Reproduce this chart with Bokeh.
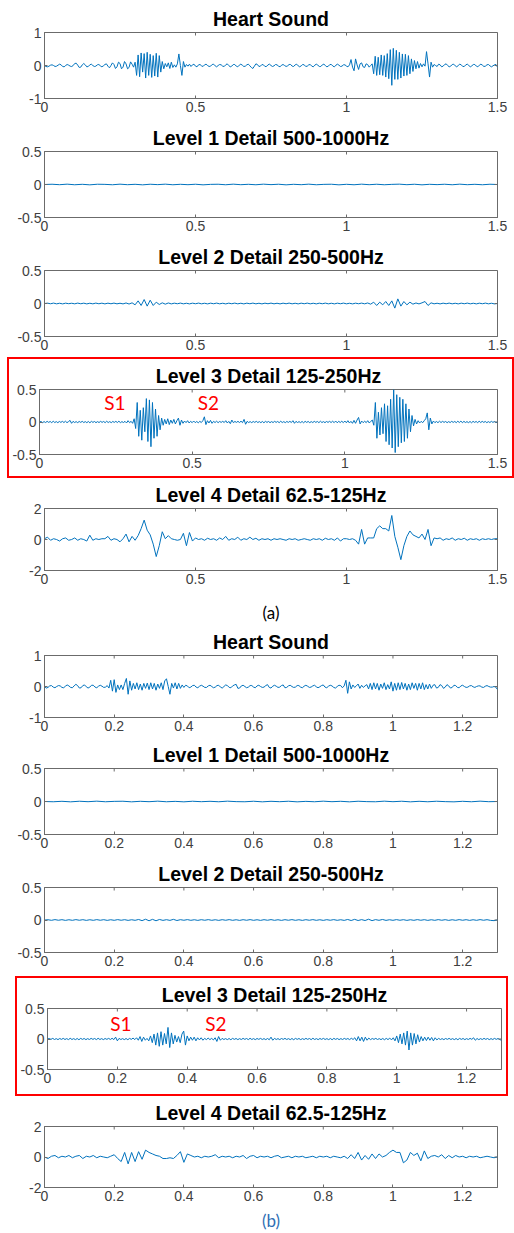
import numpy as np
from bokeh.plotting import figure
from bokeh.layouts import column, row
from bokeh.models import (FixedTicker, NumeralTickFormatter, Label, Spacer,
                          Range1d)
from bokeh.embed import file_html
from bokeh.resources import INLINE

# ---------------------------------------------------------------------------
# Recording (a): 1.5 s
# ---------------------------------------------------------------------------
heart_a = [  # 5 ms samples
    0.00, -0.03, -0.04, -0.02, 0.01, 0.02, 0.00, -0.03, -0.02, 0.01,
    0.04, 0.02, -0.03, -0.04, 0.00, 0.03, 0.01, -0.02, -0.03, 0.00,
    0.06, 0.07, 0.01, -0.06, -0.05, 0.02, 0.06, 0.02, -0.04, -0.03,
    0.02, 0.04, 0.00, -0.03, -0.02, 0.02, 0.03, -0.01, -0.04, -0.01,
    0.03, 0.05, -0.02, -0.07, 0.00, 0.08, 0.03, -0.09, -0.04, 0.10,
    0.06, -0.10, -0.05, 0.12, 0.05, -0.10, -0.06, 0.11, 0.04, -0.05,
    0.10, -0.30, 0.32, -0.34, 0.38, -0.20, 0.36, -0.38, 0.40, -0.30,
    0.34, -0.36, 0.30, -0.32, 0.37, -0.35, 0.30, -0.20, 0.12, -0.10,
    0.06, -0.04, 0.08, -0.09, 0.10, -0.06, 0.02, -0.05, 0.05, 0.35,
    0.00, -0.30, 0.12, -0.05, 0.03, -0.02, 0.04, -0.03, 0.02, 0.04,
    -0.02, -0.04, 0.02, 0.03, -0.01, -0.03, 0.02, 0.04, 0.00, -0.03,
    -0.02, 0.03, 0.04, -0.01, -0.04, 0.00, 0.03, 0.02, -0.02, -0.03,
    0.02, 0.05, 0.00, -0.04, -0.02, 0.03, 0.03, -0.02, -0.04, 0.01,
    0.04, 0.01, -0.03, -0.02, 0.02, 0.04, -0.01, -0.06, -0.09, -0.02,
    0.05, 0.03, -0.03, -0.02, 0.03, 0.02, -0.03, -0.03, 0.02, 0.04,
    0.00, -0.03, -0.01, 0.03, 0.02, -0.02, -0.04, 0.01, 0.03, 0.00,
    -0.03, -0.01, 0.03, 0.03, -0.02, -0.03, 0.02, 0.04, -0.01, -0.04,
    -0.01, 0.03, 0.02, -0.03, -0.02, 0.02, 0.03, -0.02, -0.04, 0.01,
    0.04, 0.01, -0.03, -0.03, 0.02, 0.04, 0.00, -0.04, -0.02, 0.03,
    0.03, -0.02, -0.04, 0.01, 0.04, 0.01, -0.03, -0.02, 0.02, 0.02,
    -0.02, -0.04, 0.02, 0.18, -0.05, -0.16, 0.20, 0.02, -0.12, 0.05,
    0.08, -0.04, -0.06, 0.05, 0.03, -0.05, 0.00, 0.05, -0.25, 0.28,
    -0.30, 0.25, -0.28, 0.32, -0.30, 0.30, -0.35, 0.36, -0.40, 0.48,
    -0.60, 0.52, -0.42, 0.46, -0.42, 0.40, -0.38, 0.35, -0.32, 0.34,
    -0.30, 0.30, -0.25, 0.20, -0.18, 0.15, -0.10, 0.12, -0.08, 0.06,
    -0.04, 0.05, -0.02, 0.42, 0.05, -0.35, 0.10, -0.05, 0.03, 0.00,
    -0.03, 0.04, 0.02, -0.04, -0.02, 0.03, 0.05, 0.00, -0.04, -0.02,
    0.03, 0.04, -0.01, -0.04, 0.00, 0.04, 0.02, -0.03, -0.03, 0.02,
    0.04, 0.00, -0.04, -0.01, 0.03, 0.03, -0.02, -0.04, 0.01, 0.04,
    0.01, -0.03, -0.02, 0.02, 0.03, -0.01, -0.04, -0.01, 0.02, 0.03,
    -0.05,
]

level1_a = [  # 25 ms samples
    0.000, 0.004, -0.003, 0.005, -0.004, 0.003, -0.005, 0.004, 0.002, -0.004,
    0.005, -0.003, 0.003, -0.005, 0.004, -0.002, 0.005, -0.004, 0.003, -0.003,
    0.004, -0.005, 0.002, 0.004, -0.004, 0.005, -0.003, 0.003, -0.004, 0.005,
    -0.002, 0.004, -0.005, 0.003, -0.003, 0.005, -0.004, 0.002, 0.004, -0.005,
    0.003, -0.004, 0.005, -0.003, 0.004, -0.004, 0.002, 0.005, -0.003, 0.004,
    -0.005, 0.003, -0.002, 0.004, -0.004, 0.005, -0.003, 0.003, -0.004, 0.004,
    0.000,
]

level2_a = [  # 10 ms samples
    0.000, 0.005, -0.004, 0.006, -0.005, 0.004, -0.006, 0.005, -0.003, 0.004,
    -0.005, 0.006, -0.004, 0.005, -0.006, 0.004, -0.005, 0.006, -0.004, 0.005,
    -0.006, 0.005, -0.004, 0.006, -0.005, 0.004, -0.006, 0.008, -0.008, 0.010,
    -0.020, 0.040, -0.030, 0.060, -0.040, 0.050, -0.030, 0.020, -0.015, 0.010,
    -0.010, 0.008, -0.006, 0.005, -0.004, 0.006, -0.005, 0.004, -0.006, 0.005,
    -0.004, 0.006, -0.005, 0.004, -0.006, 0.005, -0.004, 0.006, -0.005, 0.004,
    -0.006, 0.005, -0.004, 0.006, -0.005, 0.004, -0.006, 0.005, -0.004, 0.006,
    -0.005, 0.004, -0.006, 0.005, -0.004, 0.006, -0.005, 0.004, -0.006, 0.005,
    -0.004, 0.006, -0.005, 0.004, -0.006, 0.005, -0.004, 0.006, -0.005, 0.004,
    -0.006, 0.005, -0.004, 0.006, -0.005, 0.004, -0.006, 0.005, -0.004, 0.006,
    -0.005, 0.004, -0.006, 0.005, -0.004, 0.006, -0.005, 0.008, -0.010, 0.020,
    -0.030, 0.020, -0.020, 0.030, -0.030, 0.040, -0.070, 0.070, -0.040, 0.030,
    -0.020, 0.020, -0.010, 0.008, -0.006, 0.010, 0.030, -0.030, 0.010, -0.005,
    0.004, -0.006, 0.005, -0.004, 0.006, -0.005, 0.004, -0.006, 0.005, -0.004,
    0.006, -0.005, 0.004, -0.006, 0.005, -0.004, 0.006, -0.005, 0.004, -0.006,
    0.000,
]

level3_a = [  # 5 ms samples
    0.000, 0.008, -0.010, 0.006, -0.008, 0.010, -0.006, 0.008, -0.010, 0.012,
    -0.008, 0.006, -0.010, 0.008, -0.006, 0.010, -0.008, 0.012, -0.010, 0.006,
    0.025, -0.020, 0.010, -0.008, 0.006, -0.010, 0.008, -0.006, 0.010, -0.008,
    0.006, -0.010, 0.008, -0.012, 0.010, -0.006, 0.008, -0.010, 0.006, -0.008,
    0.010, -0.006, 0.008, -0.010, 0.012, -0.008, 0.006, -0.010, 0.008, -0.006,
    0.010, -0.008, 0.012, -0.010, 0.006, -0.008, 0.010, -0.015, 0.020, -0.010,
    0.010, -0.020, 0.050, -0.100, 0.300, -0.220, 0.180, -0.280, 0.220, -0.150,
    0.360, -0.300, 0.340, -0.380, 0.300, -0.250, 0.200, -0.220, 0.100, -0.120,
    0.060, -0.050, 0.040, -0.030, 0.050, -0.040, 0.030, -0.020, 0.040, -0.030,
    0.020, 0.060, -0.050, 0.030, -0.020, 0.015, -0.010, 0.020, -0.015, 0.010,
    -0.010, 0.015, -0.010, 0.008, -0.012, 0.010, -0.008, 0.020, 0.080, -0.040,
    0.020, -0.015, 0.025, -0.020, 0.010, -0.008, 0.012, -0.010, 0.008, -0.006,
    0.010, -0.008, 0.020, -0.015, 0.010, -0.025, 0.030, -0.010, 0.008, -0.006,
    0.010, -0.008, 0.012, -0.010, 0.040, -0.035, 0.010, -0.008, 0.006, -0.010,
    0.008, -0.006, 0.010, -0.008, 0.006, -0.010, 0.008, -0.012, 0.010, -0.006,
    0.008, -0.010, 0.006, -0.008, 0.010, -0.006, 0.008, -0.010, 0.012, -0.008,
    0.006, -0.010, 0.008, -0.006, 0.010, -0.008, 0.020, -0.020, 0.010, -0.008,
    0.006, -0.010, 0.008, -0.012, 0.010, -0.006, 0.008, -0.010, 0.006, -0.008,
    0.010, -0.006, 0.008, -0.010, 0.012, -0.008, 0.006, -0.010, 0.008, -0.006,
    0.010, -0.008, 0.012, -0.010, 0.015, -0.012, 0.010, -0.008, 0.012, -0.010,
    0.015, -0.012, 0.020, -0.015, 0.010, -0.020, 0.025, -0.020, 0.030, 0.070,
    -0.030, 0.015, -0.010, 0.012, -0.010, 0.020, -0.015, 0.010, 0.030, -0.050,
    0.300, -0.250, 0.150, -0.200, 0.220, -0.180, 0.280, -0.300, 0.250, -0.350,
    0.350, -0.400, 0.500, -0.470, 0.420, -0.380, 0.380, -0.320, 0.350, -0.300,
    0.280, -0.250, 0.200, -0.150, 0.100, -0.060, 0.040, -0.030, 0.020, -0.015,
    0.010, -0.010, 0.020, 0.050, 0.140, -0.120, 0.060, -0.030, 0.015, -0.010,
    0.008, -0.010, 0.012, -0.008, 0.010, -0.006, 0.008, -0.010, 0.006, -0.008,
    0.010, -0.006, 0.008, -0.010, 0.012, -0.008, 0.015, -0.012, 0.010, -0.008,
    0.006, -0.010, 0.008, -0.012, 0.010, -0.006, 0.008, -0.010, 0.012, -0.008,
    0.010, -0.006, 0.008, -0.010, 0.006, -0.008, 0.010, -0.006, 0.008, -0.010,
    0.000,
]

level4_a = [  # 10 ms samples
    0.05, 0.15, -0.05, 0.05, 0.00, -0.10, 0.05, 0.10, -0.05, 0.00,
    0.10, -0.05, 0.05, 0.00, -0.10, 0.28, -0.05, 0.05, 0.00, 0.05,
    0.05, 0.20, -0.05, 0.05, 0.00, -0.15, 0.05, 0.35, -0.15, 0.20,
    -0.05, 0.25, 0.70, 1.25, 0.60, 0.30, -0.30, -1.10, -0.40, 0.50,
    0.05, 0.25, 0.05, 0.00, -0.05, 0.00, 0.40, -0.40, 0.45, -0.10,
    0.10, 0.00, 0.05, -0.05, 0.08, 0.00, 0.05, -0.05, 0.10, 0.00,
    0.20, -0.05, 0.05, 0.00, 0.15, -0.05, 0.05, 0.00, 0.15, 0.00,
    0.08, -0.05, 0.05, 0.00, 0.05, -0.05, 0.05, 0.00, 0.05, 0.00,
    -0.05, 0.05, 0.00, 0.05, -0.05, 0.00, 0.05, 0.00, -0.05, 0.05,
    0.00, 0.05, -0.05, 0.08, 0.00, 0.05, -0.05, 0.10, -0.10, 0.05,
    0.05, 0.00, 0.05, -0.05, -0.30, 0.65, -0.30, 0.10, 0.10, 0.10,
    0.70, 0.88, 0.70, 0.70, 0.55, 1.55, 0.20, -0.50, -1.30, -0.40,
    0.20, 0.55, 0.30, 0.20, 0.10, 0.35, 0.00, 0.65, -0.40, 0.10,
    0.05, 0.10, -0.05, 0.05, 0.00, 0.10, -0.05, 0.05, 0.00, 0.08,
    -0.05, 0.05, 0.00, 0.05, -0.05, 0.05, 0.00, 0.05, 0.00, 0.05,
    0.05,
]

# ---------------------------------------------------------------------------
# Recording (b): 1.3 s
# ---------------------------------------------------------------------------
heart_b = [  # 5 ms samples
    0.00, -0.05, -0.03, 0.02, 0.03, -0.02, -0.04, 0.00, 0.03, 0.02,
    -0.03, -0.04, 0.01, 0.05, 0.02, -0.03, -0.04, 0.02, 0.07, 0.03,
    -0.05, -0.04, 0.03, 0.05, -0.01, -0.05, -0.02, 0.04, 0.04, -0.02,
    -0.04, 0.01, 0.04, 0.01, -0.03, -0.02, 0.03, -0.05, 0.20, -0.15,
    0.22, -0.19, 0.05, -0.10, 0.05, -0.10, 0.10, 0.26, -0.25, 0.18,
    -0.12, 0.10, -0.08, 0.12, -0.10, 0.08, -0.12, 0.10, -0.06, 0.11,
    -0.10, 0.12, -0.08, 0.10, -0.12, 0.08, -0.06, 0.12, -0.10, 0.18,
    0.25, 0.00, -0.25, 0.10, -0.05, 0.12, -0.08, 0.10, -0.06, 0.05,
    -0.03, 0.04, 0.02, -0.04, -0.02, 0.03, 0.04, -0.02, -0.04, 0.01,
    0.04, 0.01, -0.03, -0.03, 0.02, 0.04, 0.00, -0.04, -0.02, 0.03,
    0.04, -0.02, -0.05, 0.00, 0.05, 0.03, -0.03, -0.04, 0.02, 0.05,
    0.07, -0.06, -0.05, 0.02, 0.04, 0.00, -0.04, -0.02, 0.03, 0.03,
    -0.02, -0.04, 0.02, 0.04, 0.00, -0.03, -0.02, 0.03, 0.06, -0.03,
    -0.05, 0.01, 0.04, 0.01, -0.03, -0.02, 0.03, 0.05, -0.04, -0.03,
    0.02, 0.04, 0.00, -0.03, -0.02, 0.03, 0.03, -0.02, -0.04, 0.01,
    0.04, 0.01, -0.03, -0.02, 0.02, 0.04, -0.01, -0.04, -0.01, 0.03,
    0.05, -0.02, -0.04, 0.01, 0.04, 0.02, -0.03, -0.05, 0.00, 0.04,
    0.03, -0.04, 0.02, 0.20, -0.22, 0.15, -0.08, 0.05, -0.03, 0.02,
    0.08, -0.06, 0.04, -0.03, 0.02, 0.06, -0.08, 0.10, -0.10, 0.12,
    -0.08, 0.10, -0.12, 0.08, -0.06, 0.12, -0.10, 0.06, -0.08, 0.15,
    -0.15, 0.10, -0.12, 0.12, -0.10, 0.13, -0.08, 0.10, -0.12, 0.08,
    -0.10, 0.12, -0.06, 0.10, -0.12, 0.10, -0.08, 0.12, -0.10, 0.06,
    -0.08, 0.08, -0.06, 0.04, 0.06, -0.05, -0.03, 0.06, 0.03, -0.06,
    -0.02, 0.06, 0.02, -0.05, -0.03, 0.04, 0.03, -0.03, -0.04, 0.02,
    0.04, 0.00, -0.03, -0.02, 0.02, 0.03, -0.01, -0.03, 0.00, 0.02,
    0.02, -0.02, -0.03, 0.01, 0.03, 0.00, -0.02, -0.02, 0.00, -0.02,
    -0.10,
]

level1_b = [  # 25 ms samples
    0.000, -0.004, 0.003, -0.005, 0.004, -0.003, 0.005, -0.004, 0.002, 0.004,
    -0.005, 0.003, -0.003, 0.005, -0.004, 0.002, -0.005, 0.004, -0.003, 0.003,
    -0.004, 0.005, -0.002, -0.004, 0.004, -0.005, 0.003, -0.003, 0.004, -0.005,
    0.002, -0.004, 0.005, -0.003, 0.003, -0.005, 0.004, -0.002, -0.004, 0.005,
    -0.003, 0.004, -0.005, 0.003, -0.004, 0.004, -0.002, -0.005, 0.003, -0.004,
    0.005, -0.003, 0.000,
]

level2_b = [  # 10 ms samples
    0.000, 0.004, -0.005, 0.006, -0.004, 0.005, -0.006, 0.004, -0.005, 0.006,
    -0.004, 0.005, -0.006, 0.004, -0.005, 0.006, -0.004, 0.005, -0.006, 0.004,
    -0.005, 0.006, -0.004, 0.005, -0.006, 0.004, -0.005, 0.008, -0.010, 0.012,
    -0.012, 0.010, -0.012, 0.008, -0.006, 0.005, -0.006, 0.010, -0.008, 0.005,
    -0.004, 0.006, -0.005, 0.004, -0.006, 0.005, -0.004, 0.006, -0.005, 0.004,
    -0.006, 0.005, -0.004, 0.006, -0.005, 0.004, -0.006, 0.005, -0.004, 0.006,
    -0.005, 0.004, -0.006, 0.005, -0.004, 0.006, -0.005, 0.004, -0.006, 0.005,
    -0.004, 0.006, -0.005, 0.004, -0.006, 0.005, -0.004, 0.006, -0.005, 0.004,
    -0.006, 0.005, -0.004, 0.006, -0.005, 0.004, -0.006, 0.008, -0.008, 0.010,
    -0.008, 0.006, -0.008, 0.012, -0.010, 0.006, -0.005, 0.008, -0.006, 0.004,
    -0.005, 0.006, -0.004, 0.005, -0.006, 0.004, -0.005, 0.006, -0.004, 0.005,
    -0.006, 0.004, -0.005, 0.006, -0.004, 0.005, -0.006, 0.004, -0.005, 0.006,
    -0.004, 0.005, -0.006, 0.004, -0.005, 0.006, -0.004, 0.005, -0.006, -0.010,
    0.000,
]

level3_b = [  # 5 ms samples
    0.000, 0.008, -0.006, 0.010, -0.008, 0.006, -0.010, 0.008, -0.006, 0.010,
    -0.008, 0.006, -0.010, 0.012, -0.008, 0.006, -0.010, 0.008, -0.012, 0.010,
    -0.006, 0.008, -0.010, 0.006, -0.008, 0.010, -0.006, 0.008, -0.010, 0.012,
    -0.008, 0.006, -0.010, 0.008, -0.006, 0.010, -0.008, 0.012, -0.010, 0.030,
    -0.030, 0.010, -0.008, 0.006, -0.010, 0.008, -0.012, 0.010, -0.006, 0.015,
    -0.010, 0.020, -0.020, 0.040, -0.040, 0.030, -0.020, 0.010, -0.030, 0.050,
    -0.060, 0.080, -0.100, 0.100, -0.120, 0.120, -0.100, 0.090, -0.080, 0.190,
    -0.140, 0.100, -0.080, 0.060, -0.050, 0.040, -0.060, 0.080, 0.130, -0.100,
    0.050, -0.030, 0.030, -0.020, 0.030, -0.030, 0.020, -0.015, 0.020, -0.020,
    0.010, -0.010, 0.015, -0.010, 0.010, -0.015, 0.020, -0.040, 0.040, -0.020,
    0.010, -0.008, 0.006, -0.010, 0.008, -0.012, 0.010, -0.006, 0.008, -0.010,
    0.006, -0.008, 0.010, -0.006, 0.008, -0.010, 0.012, -0.008, 0.006, -0.010,
    0.008, -0.006, 0.010, -0.008, 0.006, -0.010, 0.008, -0.012, 0.030, -0.020,
    0.010, -0.008, 0.006, -0.010, 0.008, -0.006, 0.010, -0.008, 0.006, -0.010,
    0.008, -0.012, 0.010, -0.006, 0.008, -0.010, 0.006, -0.008, 0.010, -0.006,
    0.008, -0.010, 0.012, -0.008, 0.006, -0.010, 0.008, -0.006, 0.010, -0.008,
    0.006, -0.010, 0.008, -0.012, 0.010, -0.006, 0.008, -0.010, 0.006, -0.008,
    0.010, -0.006, 0.008, -0.010, 0.012, -0.008, 0.020, -0.030, 0.040, -0.030,
    0.030, -0.040, 0.030, -0.020, 0.015, -0.010, 0.008, -0.006, 0.010, -0.008,
    0.006, -0.010, 0.008, -0.012, 0.010, -0.010, 0.015, -0.015, 0.020, -0.030,
    0.050, -0.060, 0.080, -0.080, 0.100, -0.100, 0.130, -0.180, 0.100, -0.100,
    0.090, -0.080, 0.070, -0.050, 0.040, -0.030, 0.030, -0.025, 0.030, -0.020,
    0.025, -0.030, 0.020, -0.015, 0.010, -0.008, 0.006, -0.010, 0.008, -0.006,
    0.010, -0.008, 0.006, -0.010, 0.008, -0.012, 0.010, -0.006, 0.008, -0.010,
    0.006, -0.008, 0.010, -0.006, 0.020, -0.020, 0.008, -0.010, 0.006, -0.008,
    0.010, -0.006, 0.008, -0.010, 0.006, -0.008, 0.010, -0.006, 0.008, -0.010,
    -0.020,
]

level4_b = [  # 10 ms samples
    0.00, -0.10, 0.05, 0.10, -0.05, 0.05, 0.00, 0.10, -0.05, 0.05,
    0.10, -0.10, 0.05, 0.00, 0.10, -0.05, 0.05, 0.00, -0.05, 0.05,
    0.15, -0.10, -0.30, 0.30, -0.45, 0.30, -0.30, 0.35, -0.15, 0.45,
    0.30, 0.20, 0.10, 0.05, -0.10, -0.10, -0.05, -0.10, 0.10, 0.35,
    -0.35, 0.20, 0.10, 0.00, 0.05, -0.05, 0.05, 0.00, 0.05, 0.15,
    -0.05, 0.05, 0.00, 0.05, -0.05, 0.05, 0.00, 0.10, -0.10, 0.05,
    0.10, -0.05, 0.05, 0.00, 0.05, -0.05, 0.05, 0.10, -0.05, 0.00,
    0.05, -0.05, 0.05, 0.00, 0.05, -0.05, 0.00, 0.05, -0.05, 0.05,
    0.00, 0.05, -0.05, 0.05, 0.00, -0.05, 0.05, -0.10, 0.15, -0.10,
    0.30, -0.20, 0.10, -0.15, 0.20, -0.10, 0.20, 0.00, 0.10, 0.30,
    0.45, 0.30, 0.30, -0.38, -0.20, 0.30, 0.10, 0.25, -0.25, 0.40,
    -0.10, 0.05, 0.10, 0.00, 0.15, -0.10, 0.10, -0.05, 0.10, 0.00,
    0.05, -0.05, 0.05, 0.00, 0.05, -0.05, 0.00, 0.05, 0.00, -0.05,
    0.00,
]

titles = ["Heart Sound", "Level 1 Detail 500-1000Hz", "Level 2 Detail 250-500Hz",
          "Level 3 Detail 125-250Hz", "Level 4 Detail 62.5-125Hz"]
y_limits = [1.0, 0.5, 0.5, 0.5, 2.0]
x_ticks_a = [0, 0.5, 1, 1.5]
x_ticks_b = [0, 0.2, 0.4, 0.6, 0.8, 1, 1.2]
s_labels = ["S1", "S2"]
s_pos_a = [0.247, 0.553]
s_pos_b = [0.21, 0.482]

BLUE = "#0072BD"
FRAME = "#6b6b6b"
TICK_TXT = "#404040"
FONT = "Liberation Sans"


def make_panel(values, t_end, y_lim, x_ticks, title, width, height,
               left, right, top, bottom):
    p = figure(width=width, height=height,
               x_range=Range1d(0, t_end), y_range=Range1d(-y_lim, y_lim),
               output_backend="svg", toolbar_location=None,
               min_border_left=left, min_border_right=right,
               min_border_top=top, min_border_bottom=bottom,
               background_fill_color="white", border_fill_color="white")
    t = np.linspace(0, t_end, len(values))
    p.line(t, values, line_color=BLUE, line_width=1)
    p.grid.visible = False
    p.outline_line_color = FRAME
    p.outline_line_width = 1

    y_ticks = [-y_lim, 0, y_lim]
    fmt = NumeralTickFormatter(format="0.[0]")
    for ax, ticks in ((p.xaxis[0], x_ticks), (p.yaxis[0], y_ticks)):
        ax.ticker = FixedTicker(ticks=ticks)
        ax.formatter = fmt
        ax.major_tick_in = 3
        ax.major_tick_out = 0
        ax.minor_tick_line_color = None
        ax.axis_line_color = FRAME
        ax.major_tick_line_color = FRAME
        ax.major_label_text_font = FONT
        ax.major_label_text_font_size = "14px"
        ax.major_label_text_color = TICK_TXT
        ax.major_label_standoff = 3

    # inward ticks on the top and right edges of the box
    p.ray(x=x_ticks, y=[y_lim] * len(x_ticks), length=3, length_units="screen",
          angle=-np.pi / 2, line_color=FRAME, line_width=1)
    p.ray(x=[t_end] * len(y_ticks), y=y_ticks, length=3, length_units="screen",
          angle=np.pi, line_color=FRAME, line_width=1)

    p.title.text = title
    p.title.align = "center"
    p.title.text_font = FONT
    p.title.text_font_style = "bold"
    p.title.text_font_size = "19.5px"
    p.title.text_color = "black"
    p.title.standoff = 6
    return p


def add_s_labels(p, positions, y):
    for txt, x in zip(s_labels, positions):
        p.add_layout(Label(x=x, y=y, text=txt, text_color="#ff0000",
                           text_font="Lato", text_font_size="19px",
                           text_align="center", text_baseline="middle"))


def caption(p, txt, color, standoff):
    ax = p.below[0]
    ax.axis_label = txt
    ax.axis_label_text_font = "Lato"
    ax.axis_label_text_font_style = "normal"
    ax.axis_label_text_font_size = "17px"
    ax.axis_label_text_color = color
    ax.axis_label_standoff = standoff


def red_box(p):
    return column(p, styles={"border": "2px solid #ff0000"})


# recording (a)
a_series = [heart_a, level1_a, level2_a, level3_a, level4_a]
a_heights = [119, 119, 119, 117, 147]
a_tops = [32, 32, 32, 30, 30]
a_bottoms = [21, 21, 21, 22, 52]
a_figs = []
for k in range(5):
    if k == 3:
        p = make_panel(a_series[k], 1.5, y_limits[k], x_ticks_a, titles[k],
                       503, a_heights[k], 27, 15, a_tops[k], a_bottoms[k])
        add_s_labels(p, s_pos_a, 0.3)
        a_figs.append(row(Spacer(width=7, height=a_heights[k] + 4), red_box(p)))
    else:
        p = make_panel(a_series[k], 1.5, y_limits[k], x_ticks_a, titles[k],
                       514, a_heights[k], 36, 17, a_tops[k], a_bottoms[k])
        if k == 4:
            caption(p, "(a)", "black", 15)
        a_figs.append(p)

# recording (b)
b_series = [heart_b, level1_b, level2_b, level3_b, level4_b]
b_heights = [113, 119, 119, 116, 137]
b_tops = [27, 30, 30, 26, 27]
b_bottoms = [21, 23, 24, 25, 45]
b_figs = []
for k in range(5):
    if k == 3:
        p = make_panel(b_series[k], 1.3, y_limits[k], x_ticks_b, titles[k],
                       489, b_heights[k], 27, 5, b_tops[k], b_bottoms[k])
        add_s_labels(p, s_pos_b, 0.25)
        b_figs.append(row(Spacer(width=15, height=b_heights[k] + 4), red_box(p)))
    else:
        p = make_panel(b_series[k], 1.3, y_limits[k], x_ticks_b, titles[k],
                       514, b_heights[k], 44, 13, b_tops[k], b_bottoms[k])
        if k == 4:
            caption(p, "(b)", "#2F6FB5", 6)
        b_figs.append(p)

layout = column(*a_figs, *b_figs, spacing=0)

with open("out.html", "w") as f:
    f.write(file_html(layout, INLINE, title="Heart sound wavelet details"))
